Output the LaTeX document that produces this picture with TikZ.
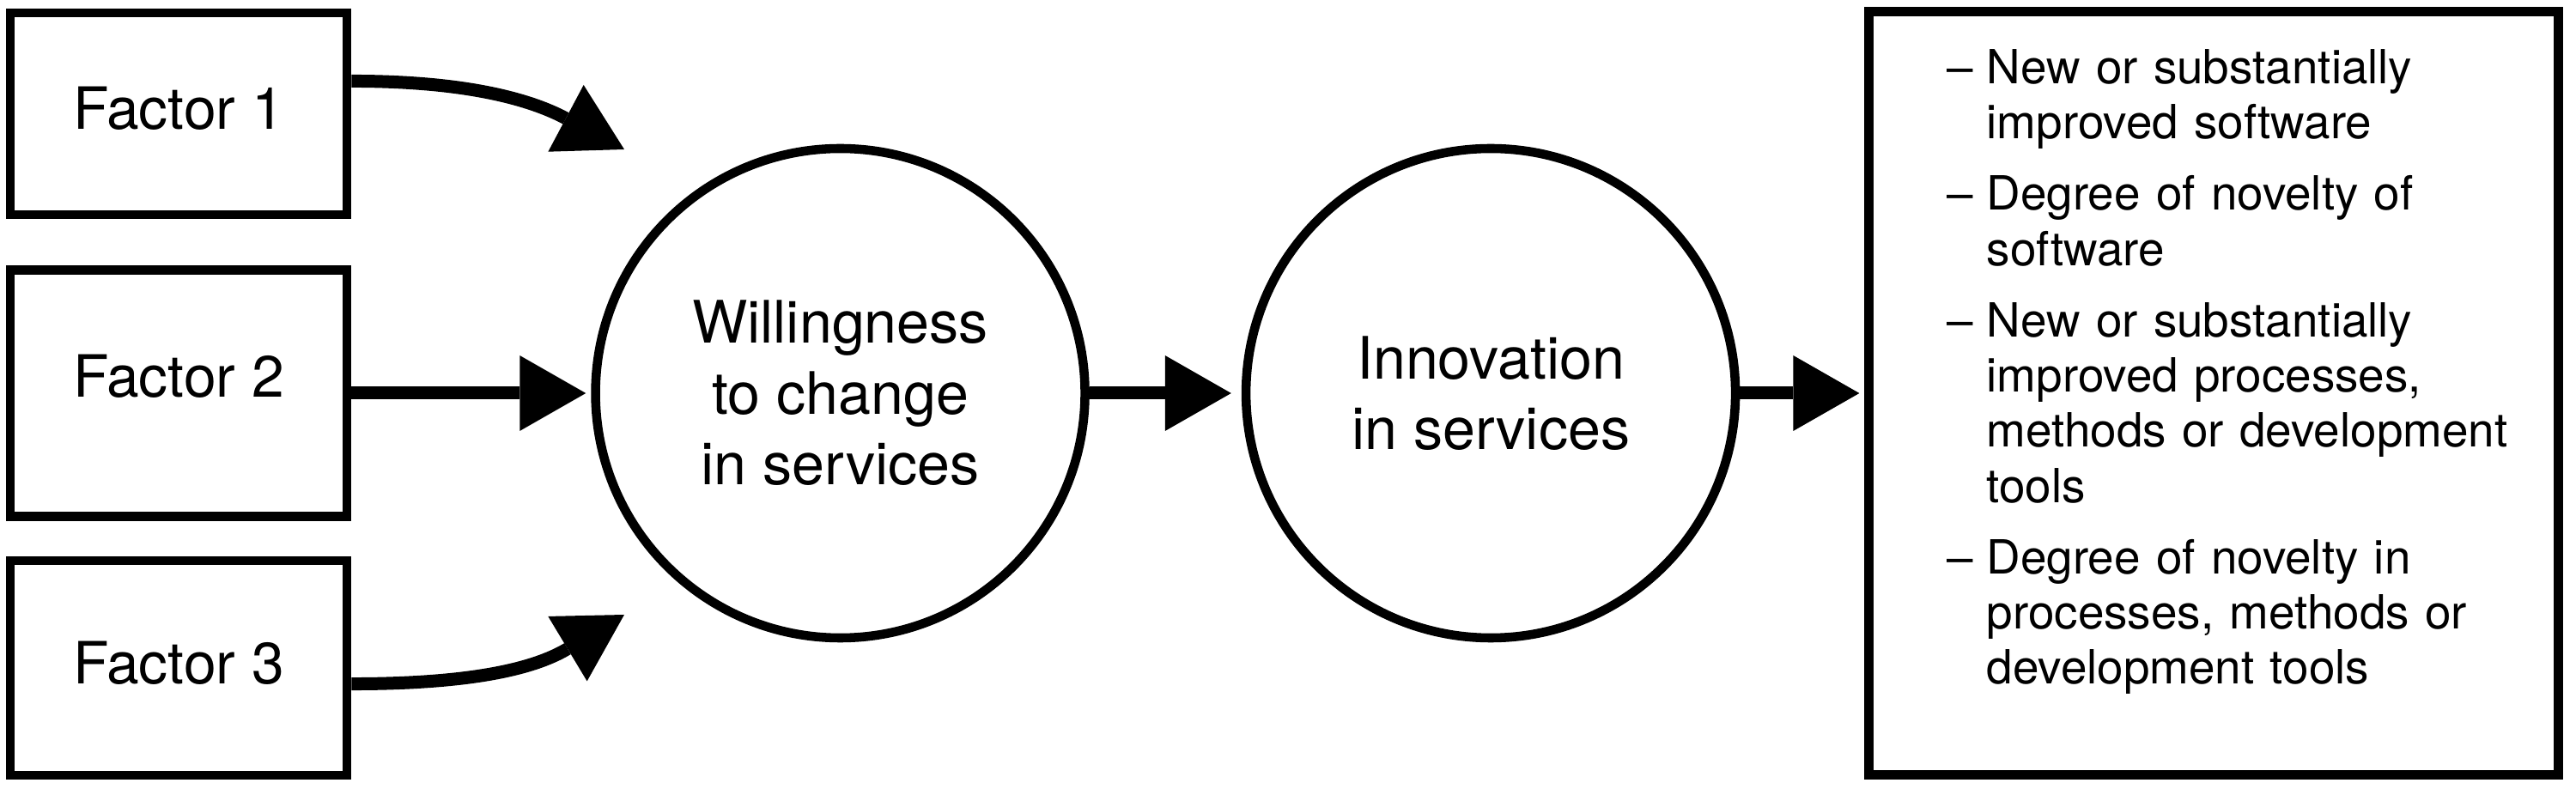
\documentclass[tikz,border=0pt]{standalone}
\usepackage{fontspec}
\setmainfont{TeX Gyre Heros}
\usetikzlibrary{positioning,arrows.meta}

\newcommand{\itemdash}{\makebox[0.46cm][l]{–}}
\newcommand{\itemcont}{\makebox[0.46cm]{}}

\begin{document}
\begin{tikzpicture}[node distance=1cm,
		factorbox/.style={draw, rectangle, line width=3pt, minimum width=3.92cm, text depth=0.14cm, font=\fontsize{19.3}{22}\selectfont},
		stage/.style={draw, circle, line width=3pt, minimum size=5.70cm, inner sep=0pt, align=center, font=\fontsize{19.4}{23.5}\selectfont},
		flow/.style={line width=0.15cm, -{Triangle[length=0.77cm, width=0.88cm, line width=0pt]}, shorten >=0.06cm}]
		\useasboundingbox (0,0) rectangle (30,-9.19);

		% Nodes
		\node[factorbox, minimum height=2.87cm, text depth=0.40cm] (f2) at (2.08,-4.58) {Factor 2};
		\node[factorbox, minimum height=2.35cm, above=0.54cm of f2] (f1) {Factor 1};
		\node[factorbox, minimum height=2.50cm, text depth=0.12cm, below=0.41cm of f2] (f3) {Factor 3};
		\node[stage, right=2.79cm of f2] (will) {Willingness\\to change\\in services};
		\node[stage, right=1.77cm of will] (innov) {Innovation\\in services};
		\node[draw, rectangle, line width=3pt, right=1.45cm of innov, inner xsep=0.455cm, inner ysep=0pt, text width=7.12cm, text height=0.84cm, text depth=8.05cm, align=left, font=\fontsize{15.6}{18.3}\selectfont] (outcomes) {\leftskip=0.455cm
			\itemdash New or substantially\\
			\itemcont improved software\\[0.187cm]
			\itemdash Degree of novelty of\\
			\itemcont software\\[0.187cm]
			\itemdash New or substantially\\
			\itemcont improved processes,\\
			\itemcont methods or development\\
			\itemcont tools\\[0.187cm]
			\itemdash Degree of novelty in\\
			\itemcont processes, methods or\\
			\itemcont development tools\par};

		% Free ends of the curved arrows
		\coordinate (tip1) at (7.27,-1.74);
		\coordinate (tip3) at (7.27,-7.16);

		% Arrows
		\draw[flow, shorten >=0pt] ([yshift=0.38cm]f1.east) to[out=0, in=152] (tip1);
		\draw[flow] (f2) -- (will);
		\draw[flow, shorten >=0pt] ([yshift=-0.185cm]f3.east) to[out=0, in=211] (tip3);
		\draw[flow, shorten >=0.12cm] (will) -- (innov);
		\draw[flow] (innov) -- (outcomes);
	\end{tikzpicture}
\end{document}
